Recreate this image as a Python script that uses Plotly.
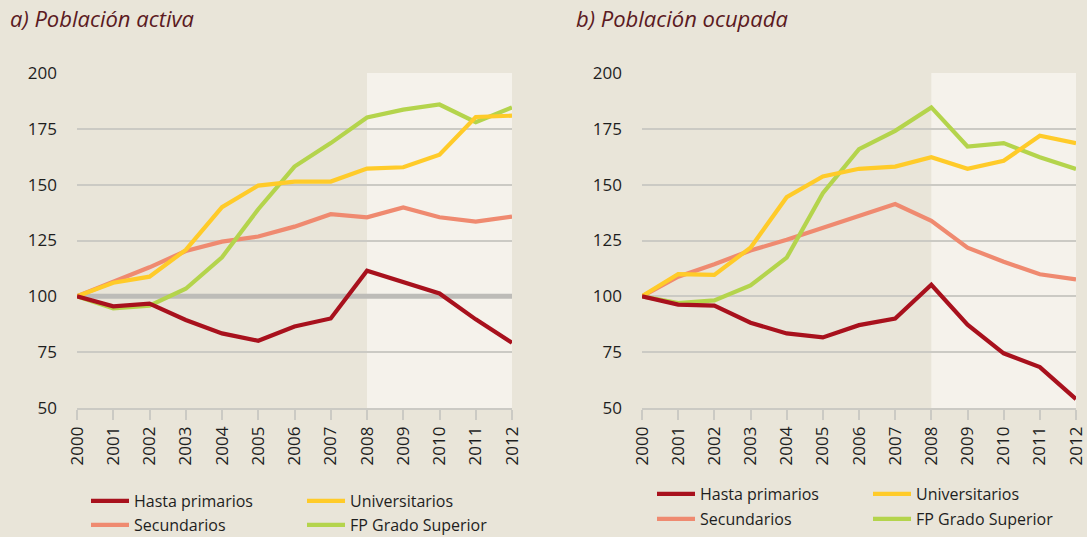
import plotly.graph_objects as go
from plotly.subplots import make_subplots

years = list(range(2000, 2013))
year_labels = [str(y) for y in years]

series_names = ["Hasta primarios", "Universitarios", "Secundarios", "FP Grado Superior"]
series_colors = ["#a8111d", "#ffcb29", "#ef8a70", "#b4d44c"]

# a) Población activa
activa_hasta = [100, 95.5, 96.7, 89.4, 83.4, 80.1, 86.5, 90.1, 111.5, 106.6, 101.3, 89.7, 79.2]
activa_univ = [100, 106.1, 108.8, 120.8, 139.9, 149.6, 151.4, 151.4, 157.2, 157.8, 163.4, 180.3, 180.9]
activa_secund = [100, 106.6, 113.0, 120.3, 124.5, 126.8, 131.2, 136.8, 135.4, 139.8, 135.4, 133.5, 135.7]
activa_fp = [100, 94.6, 95.8, 103.4, 117.5, 139.0, 158.1, 168.6, 180.1, 183.6, 185.9, 178.0, 184.6]

# b) Población ocupada
ocupada_hasta = [100, 96.3, 95.8, 88.2, 83.4, 81.6, 87.1, 90.1, 105.2, 87.3, 74.5, 68.3, 54.0]
ocupada_univ = [100, 109.9, 109.6, 121.8, 144.4, 153.7, 157.1, 158.1, 162.3, 157.1, 160.7, 171.9, 168.6]
ocupada_secund = [100, 108.8, 114.4, 120.5, 125.3, 130.5, 136.0, 141.3, 133.8, 121.8, 115.5, 109.9, 107.6]
ocupada_fp = [100, 97.0, 98.2, 104.9, 117.3, 146.2, 165.9, 174.1, 184.6, 167.1, 168.6, 162.3, 157.0]

titles = ["a) Población activa", "b) Población ocupada"]
y_ticks = [50, 75, 100, 125, 150, 175, 200]
shade_start, shade_end = 2008, 2012
reference_value = 100

BG = "#e9e5d9"
SHADE = "#f5f2eb"
GRID = "#cbcac4"
FONT = "Open Sans"
TXT = "#1e1e1e"
W, H = 1087, 537

fig = make_subplots(rows=1, cols=2)

panels = [
    (1, [activa_hasta, activa_univ, activa_secund, activa_fp], ("legend", "legend2")),
    (2, [ocupada_hasta, ocupada_univ, ocupada_secund, ocupada_fp], ("legend3", "legend4")),
]
for col, data, legs in panels:
    order = [2, 3, 1, 0]
    for i in order:
        fig.add_trace(
            go.Scatter(
                x=years, y=data[i], mode="lines", name=series_names[i],
                line=dict(color=series_colors[i], width=4.2),
                legend=legs[0] if i in (0, 1) else legs[1],
                legendrank=i,
                hoverinfo="skip",
            ),
            row=1, col=col,
        )

xdom = [(77, 512), (642, 1076)]
ytop, ybot = 73, 408
for k, (x0, x1) in enumerate(xdom):
    ax = "xaxis" if k == 0 else "xaxis2"
    ay = "yaxis" if k == 0 else "yaxis2"
    fig.layout[ax].update(
        domain=[x0 / W, x1 / W], range=[2000, 2012], tickmode="array",
        tickvals=years, ticktext=year_labels, tickangle=-90,
        showgrid=False, showline=True, linecolor=GRID, linewidth=1.5,
        ticks="outside", ticklen=10, tickwidth=1.5, tickcolor=GRID,
        tickfont=dict(family=FONT, size=17, color=TXT), zeroline=False,
        fixedrange=True, automargin=False,
    )
    fig.layout[ay].update(
        domain=[1 - ybot / H, 1 - ytop / H], range=[50, 200], tickmode="array",
        tickvals=y_ticks, showgrid=True, gridcolor=GRID, gridwidth=1.5,
        showline=False, zeroline=False, ticks="", ticklabelstandoff=19,
        tickfont=dict(family=FONT, size=17, color=TXT), fixedrange=True,
        automargin=False,
    )
    xr = "x" if k == 0 else "x2"
    yr = "y" if k == 0 else "y2"
    fig.add_shape(type="rect", xref=xr, yref=yr, x0=shade_start, x1=shade_end,
                  y0=50, y1=200, fillcolor=SHADE, line=dict(width=0), layer="below")

fig.add_shape(type="line", xref="x", yref="y", x0=2000, x1=2012,
              y0=reference_value, y1=reference_value,
              line=dict(color="#bdbcb8", width=5), layer="between")

for k, (t, xpx) in enumerate(zip(titles, [8, 574])):
    fig.add_annotation(text=t, xref="paper", yref="paper", x=xpx / W, y=1 - 18 / H,
                       xanchor="left", yanchor="middle", showarrow=False,
                       font=dict(family=FONT, size=22, color="#5b1a22", style="italic"))

leg_common = dict(orientation="h", xanchor="left", yanchor="middle",
                  bgcolor="rgba(0,0,0,0)", entrywidth=163, entrywidthmode="pixels",
                  font=dict(family=FONT, size=16, color=TXT), itemwidth=38,
                  tracegroupgap=0, traceorder="normal")
legend_pos = {
    "legend": (86, 501), "legend2": (86, 525),
    "legend3": (652, 494), "legend4": (652, 519),
}
for name, (lx, ly) in legend_pos.items():
    fig.layout[name] = dict(leg_common, x=lx / W, y=1 - ly / H, xref="paper", yref="paper")

fig.update_layout(
    width=W, height=H, paper_bgcolor=BG, plot_bgcolor=BG,
    margin=dict(l=0, r=0, t=0, b=0, autoexpand=False), showlegend=True,
)

fig.write_html(
    "out.html",
    config={"displayModeBar": False},
    post_script="document.body.style.margin='0';document.body.style.overflow='hidden';",
)
